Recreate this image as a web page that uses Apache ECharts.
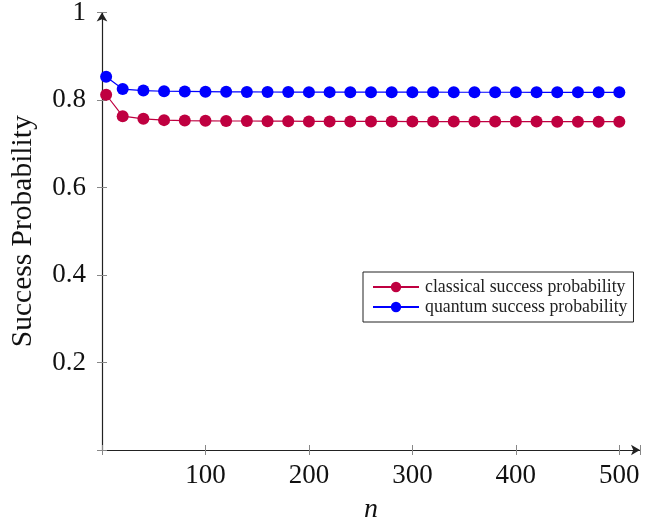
<!DOCTYPE html>
<html>
<head>
<meta charset="utf-8">
<script src="https://cdn.jsdelivr.net/npm/echarts@6/dist/echarts.min.js"></script>
<style>
html,body{margin:0;padding:0;background:#fff;}
#chart{width:660px;height:522px;}
</style>
</head>
<body>
<div id="chart"></div>
<script>
const nValues = [4, 20, 40, 60, 80, 100, 120, 140, 160, 180, 200, 220, 240, 260, 280, 300, 320, 340, 360, 380, 400, 420, 440, 460, 480, 500];
const classical = [0.812, 0.763, 0.757, 0.754, 0.753, 0.7525, 0.752, 0.752, 0.7515, 0.7515, 0.751, 0.751, 0.751, 0.751, 0.751, 0.7508, 0.7508, 0.7507, 0.7507, 0.7506, 0.7506, 0.7506, 0.7505, 0.7505, 0.7505, 0.7505];
const quantum = [0.853, 0.825, 0.8215, 0.820, 0.8195, 0.819, 0.8187, 0.8185, 0.8183, 0.8182, 0.818, 0.818, 0.8179, 0.8179, 0.8178, 0.8178, 0.8178, 0.8177, 0.8177, 0.8177, 0.8177, 0.8176, 0.8176, 0.8176, 0.8176, 0.8176];
const seriesNames = ['classical success probability', 'quantum success probability'];
const xTicks = [100, 200, 300, 400, 500];
const yTicks = [0.2, 0.4, 0.6, 0.8, 1];

const FONT = 'Liberation Serif';
const chart = echarts.init(document.getElementById('chart'), null, {renderer: 'canvas'});

function pairs(ys) { return nValues.map((n, i) => [n, ys[i]]); }

const xBase = {type: 'value', min: 0, max: 520, interval: 100, gridIndex: 0, position: 'bottom'};
const yBase = {type: 'value', min: 0, max: 1, interval: 0.2, gridIndex: 0, position: 'left'};

chart.setOption({
  animation: false,
  backgroundColor: '#fff',
  grid: {left: 102, right: 20, top: 12.5, bottom: 72, containLabel: false, outerBoundsMode: 'none'},
  legend: {
    left: 363, top: 272,
    orient: 'vertical',
    data: seriesNames,
    itemWidth: 46, itemHeight: 13, itemGap: 2,
    padding: [6, 6, 6, 9],
    borderColor: '#222', borderWidth: 1, borderRadius: 0,
    textStyle: {fontFamily: FONT, fontSize: 17.8, color: '#222', padding: [0, 0, 0, 1]}
  },
  xAxis: [
    Object.assign({}, xBase, {
      name: 'n',
      nameLocation: 'middle', nameGap: 46,
      nameTextStyle: {fontFamily: FONT, fontSize: 28, fontStyle: 'italic', color: '#111'},
      axisLine: {show: true, onZero: false, symbol: ['none', 'arrow'], symbolSize: [8, 9], lineStyle: {color: '#222', width: 1.2}},
      axisTick: {show: true, inside: false, length: 5, lineStyle: {color: '#888', width: 1}},
      axisLabel: {fontFamily: FONT, fontSize: 27, color: '#111', margin: 12,
        formatter: v => xTicks.includes(v) ? String(v) : ''},
      splitLine: {show: false}
    }),
    Object.assign({}, xBase, {
      axisLine: {show: false},
      axisTick: {show: true, inside: true, length: 5, lineStyle: {color: '#888', width: 1}},
      axisLabel: {show: false},
      splitLine: {show: false}
    })
  ],
  yAxis: [
    Object.assign({}, yBase, {
      name: 'Success Probability',
      nameLocation: 'middle', nameGap: 64,
      nameTextStyle: {fontFamily: FONT, fontSize: 29.5, color: '#111'},
      axisLine: {show: true, onZero: false, symbol: ['none', 'arrow'], symbolSize: [8, 9], lineStyle: {color: '#222', width: 1.2}},
      axisTick: {show: true, inside: false, length: 5, lineStyle: {color: '#888', width: 1}},
      axisLabel: {fontFamily: FONT, fontSize: 27, color: '#111', margin: 16,
        formatter: v => yTicks.some(t => Math.abs(t - v) < 1e-9) ? (Math.abs(v - 1) < 1e-9 ? '1' : String(Math.round(v * 10) / 10)) : ''},
      splitLine: {show: false}
    }),
    Object.assign({}, yBase, {
      axisLine: {show: false},
      axisTick: {show: true, inside: true, length: 5, lineStyle: {color: '#888', width: 1}},
      axisLabel: {show: false},
      splitLine: {show: false}
    })
  ],
  series: [
    {
      name: seriesNames[0], type: 'line', xAxisIndex: 0, yAxisIndex: 0,
      data: pairs(classical),
      symbol: 'circle', symbolSize: 12,
      lineStyle: {color: '#BF0040', width: 1.2},
      itemStyle: {color: '#BF0040'}
    },
    {
      name: seriesNames[1], type: 'line', xAxisIndex: 0, yAxisIndex: 0,
      data: pairs(quantum),
      symbol: 'circle', symbolSize: 12,
      lineStyle: {color: '#0000FF', width: 1.2},
      itemStyle: {color: '#0000FF'}
    }
  ]
});
</script>
</body>
</html>
